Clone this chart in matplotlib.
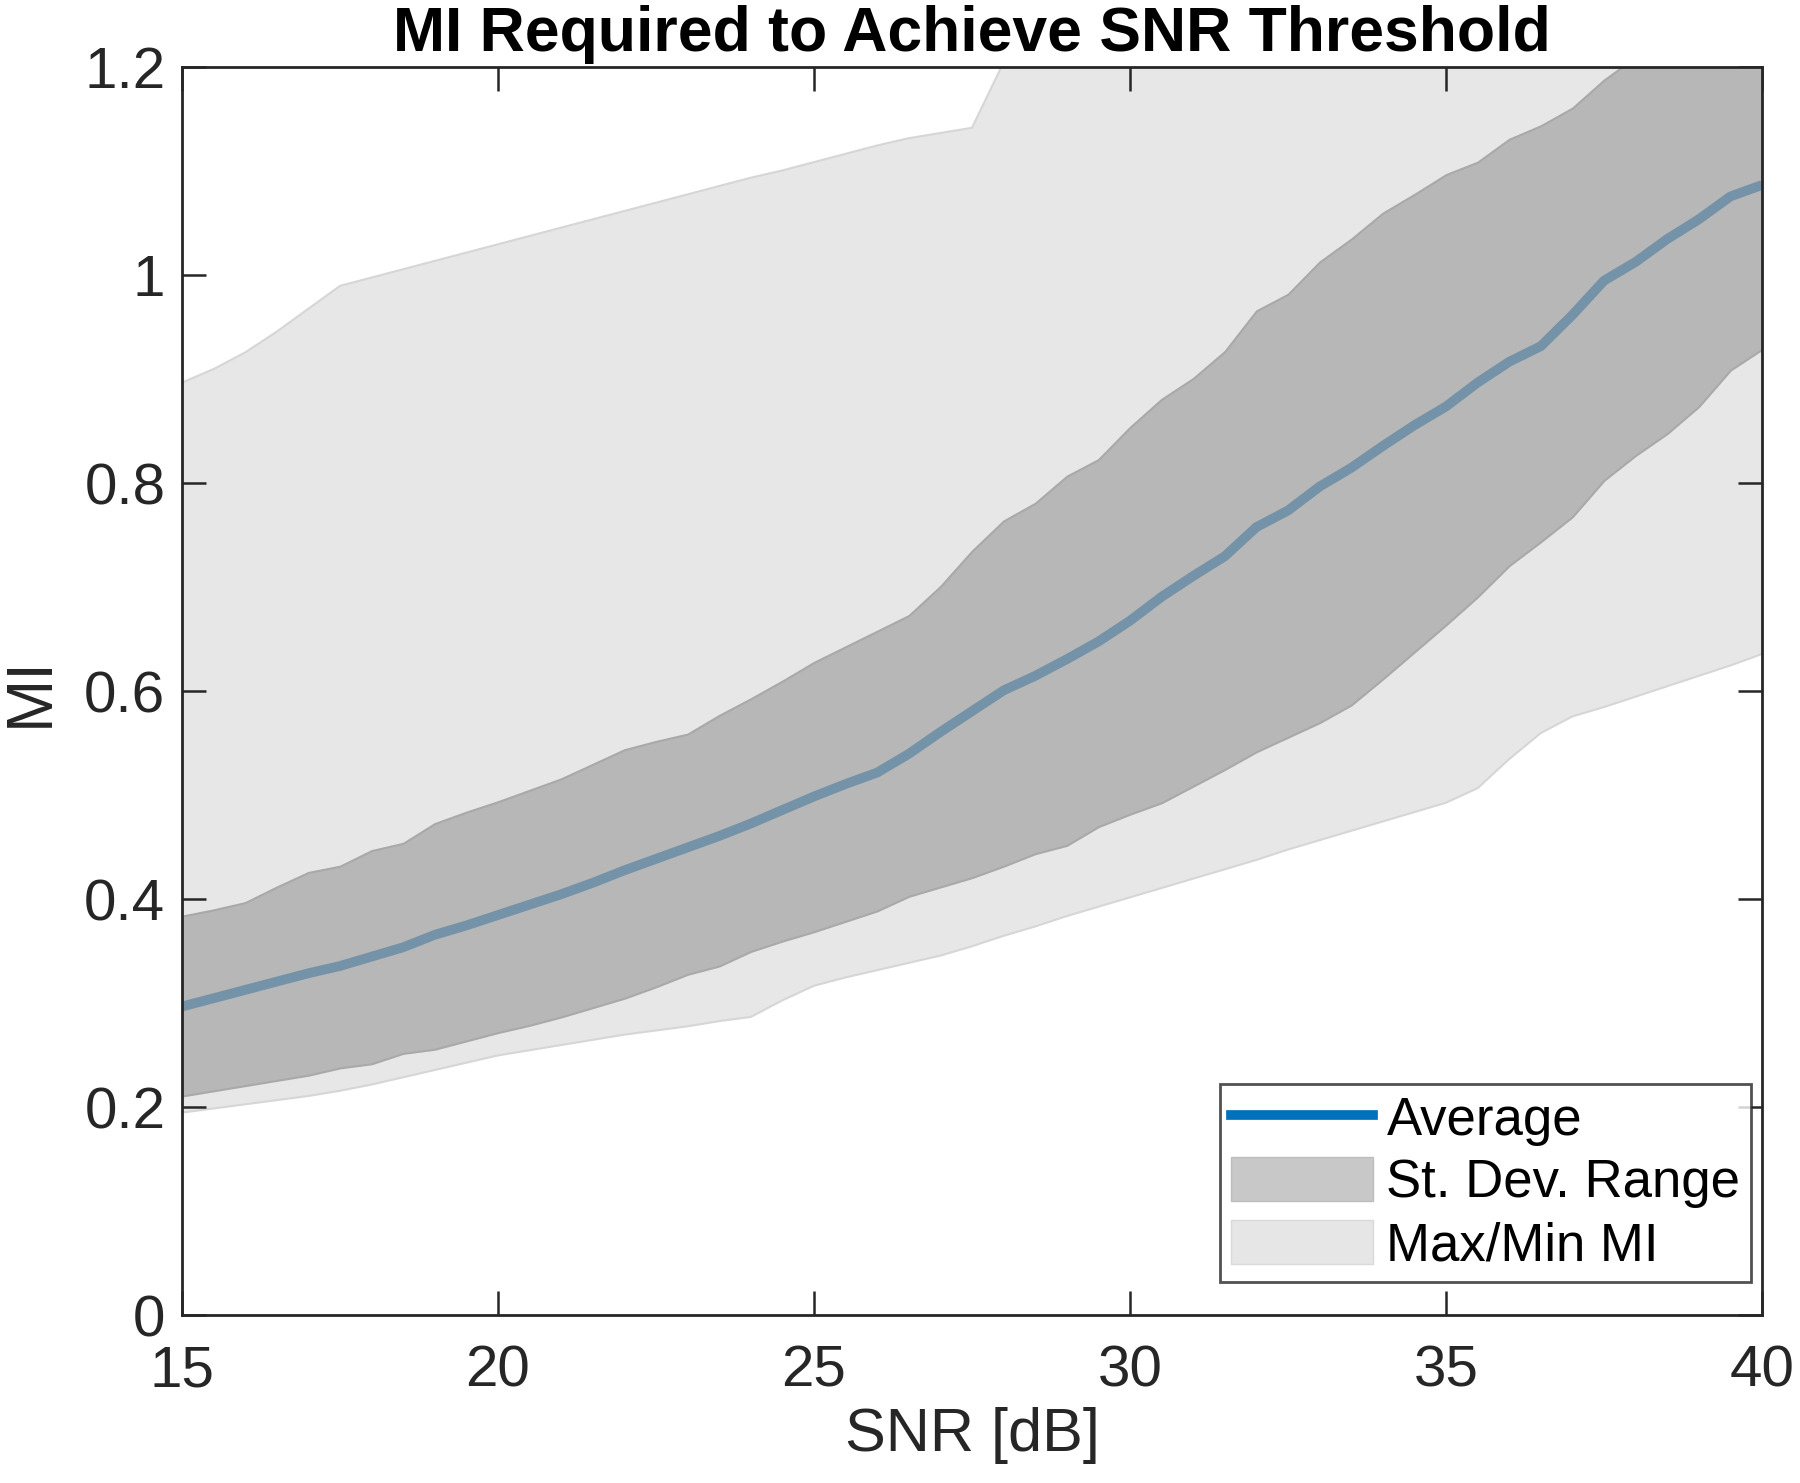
import numpy as np
import matplotlib
matplotlib.use("Agg")
import matplotlib.pyplot as plt
from matplotlib.lines import Line2D
from matplotlib.patches import Patch

plt.rcParams['font.family'] = ['Liberation Sans', 'DejaVu Sans']

snr = [15, 15.5, 16, 16.5, 17, 17.5, 18, 18.5, 19, 19.5, 20, 20.5, 21, 21.5, 22, 22.5,
       23, 23.5, 24, 24.5, 25, 25.5, 26, 26.5, 27, 27.5, 28, 28.5, 29, 29.5, 30, 30.5,
       31, 31.5, 32, 32.5, 33, 33.5, 34, 34.5, 35, 35.5, 36, 36.5, 37, 37.5, 38, 38.5,
       39, 39.5, 40]

avg_mi = [0.297, 0.305, 0.313, 0.321, 0.329, 0.336, 0.345, 0.354, 0.366, 0.375, 0.385,
          0.395, 0.405, 0.416, 0.428, 0.439, 0.450, 0.461, 0.473, 0.486, 0.499, 0.511,
          0.522, 0.540, 0.561, 0.581, 0.601, 0.615, 0.631, 0.648, 0.668, 0.691, 0.711,
          0.730, 0.758, 0.774, 0.797, 0.815, 0.836, 0.856, 0.874, 0.897, 0.917, 0.932,
          0.962, 0.995, 1.013, 1.035, 1.054, 1.076, 1.087]

sd_upper = [0.384, 0.390, 0.397, 0.412, 0.426, 0.432, 0.447, 0.454, 0.473, 0.484, 0.494,
            0.505, 0.516, 0.530, 0.544, 0.552, 0.559, 0.577, 0.593, 0.610, 0.628, 0.643,
            0.658, 0.673, 0.701, 0.735, 0.764, 0.781, 0.807, 0.823, 0.854, 0.881, 0.901,
            0.927, 0.966, 0.982, 1.013, 1.035, 1.060, 1.078, 1.097, 1.109, 1.131, 1.144,
            1.161, 1.188, 1.210, 1.230, 1.250, 1.270, 1.290]

sd_lower = [0.211, 0.216, 0.221, 0.226, 0.231, 0.238, 0.242, 0.252, 0.256, 0.264, 0.272,
            0.279, 0.287, 0.296, 0.305, 0.316, 0.328, 0.336, 0.350, 0.360, 0.369, 0.379,
            0.389, 0.403, 0.412, 0.421, 0.432, 0.444, 0.452, 0.470, 0.482, 0.493, 0.509,
            0.525, 0.542, 0.556, 0.570, 0.587, 0.612, 0.638, 0.664, 0.691, 0.721, 0.744,
            0.768, 0.803, 0.827, 0.848, 0.874, 0.909, 0.929]

max_mi = [0.897, 0.910, 0.926, 0.946, 0.968, 0.990, 0.998, 1.006, 1.014, 1.022, 1.030,
          1.038, 1.046, 1.054, 1.062, 1.070, 1.078, 1.086, 1.094, 1.101, 1.109, 1.117,
          1.125, 1.132, 1.137, 1.142, 1.205, 1.260, 1.300, 1.330, 1.360, 1.390, 1.420,
          1.440, 1.460, 1.480, 1.500, 1.520, 1.540, 1.560, 1.580, 1.600, 1.620, 1.640,
          1.660, 1.680, 1.700, 1.720, 1.740, 1.760, 1.780]

min_mi = [0.195, 0.199, 0.203, 0.207, 0.211, 0.216, 0.222, 0.229, 0.236, 0.243, 0.250,
          0.255, 0.260, 0.265, 0.270, 0.274, 0.278, 0.283, 0.287, 0.303, 0.317, 0.325,
          0.332, 0.339, 0.346, 0.355, 0.365, 0.374, 0.384, 0.393, 0.402, 0.411, 0.420,
          0.429, 0.438, 0.448, 0.457, 0.466, 0.475, 0.484, 0.493, 0.507, 0.535, 0.560,
          0.576, 0.585, 0.595, 0.605, 0.615, 0.625, 0.636]

x_ticks = [15, 20, 25, 30, 35, 40]
y_ticks = [0, 0.2, 0.4, 0.6, 0.8, 1.0, 1.2]
y_tick_labels = ['0', '0.2', '0.4', '0.6', '0.8', '1', '1.2']

fig = plt.figure(figsize=(18, 14.83), dpi=100)
ax = fig.add_axes([0.1011, 0.1130, 0.8778, 0.8415])

ax.fill_between(snr, min_mi, max_mi, facecolor='#e7e7e7', edgecolor='#d6d6d6',
                linewidth=1.5, zorder=1)
ax.fill_between(snr, sd_lower, sd_upper, facecolor='#b7b7b7', edgecolor='#a9a9a9',
                linewidth=1.5, zorder=2)
ax.plot(snr, avg_mi, color='#7493a8', linewidth=7, zorder=3, solid_capstyle='butt')

ax.set_xlim(15, 40)
ax.set_ylim(0, 1.2)
ax.set_xticks(x_ticks)
ax.set_yticks(y_ticks)
ax.set_yticklabels(y_tick_labels)
ax.tick_params(direction='in', length=17, width=1.8, top=True, right=True,
               labelsize=42, color='#262626', labelcolor='#262626')
ax.tick_params(axis='y', pad=12)
ax.tick_params(axis='x', pad=21)
for s in ax.spines.values():
    s.set_linewidth(2)
    s.set_color('#262626')
    s.set_zorder(5)

ax.set_xlabel('SNR [dB]', fontsize=44, color='#262626', labelpad=6)
ax.set_ylabel('MI', fontsize=46, color='#262626', labelpad=17)
ax.set_title('MI Required to Achieve SNR Threshold', fontsize=45, fontweight='bold',
             pad=12)

handles = [Line2D([0], [0], color='#0072bd', linewidth=7),
           Patch(facecolor='#c8c8c8', edgecolor='#bdbdbd'),
           Patch(facecolor='#e6e6e6', edgecolor='#dadada')]
labels = ['Average', 'St. Dev. Range', 'Max/Min MI']
leg = ax.legend(handles, labels, loc='lower right', fontsize=38, frameon=True,
                fancybox=False, edgecolor='#262626', handlelength=2.7,
                handleheight=0.9, borderpad=0.2, labelspacing=0.22,
                handletextpad=0.25, borderaxespad=0,
                bbox_to_anchor=(0.993, 0.027))
leg.get_frame().set_linewidth(2)

fig.savefig('out.png', dpi=100, facecolor='white')
